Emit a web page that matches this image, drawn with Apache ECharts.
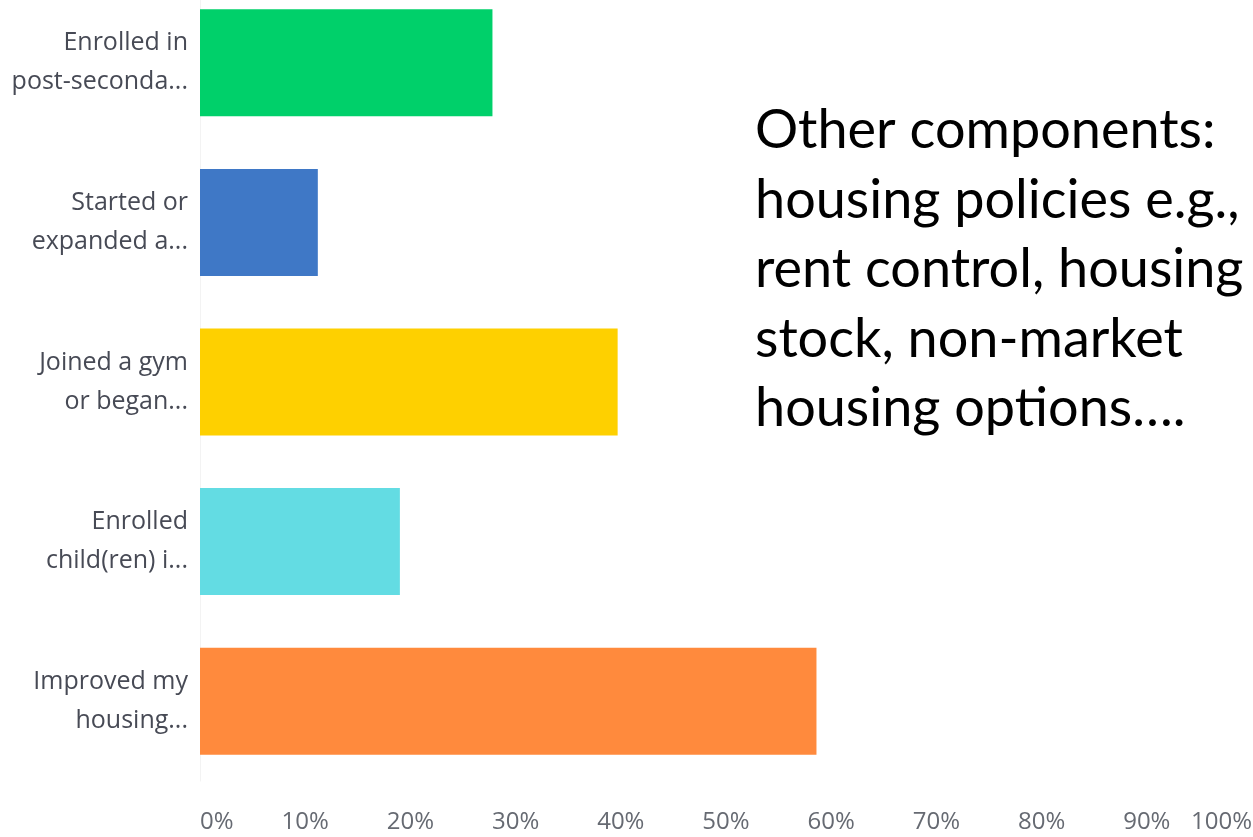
<!DOCTYPE html>
<html>
<head>
<meta charset="utf-8">
<script src="https://cdn.jsdelivr.net/npm/echarts@6/dist/echarts.min.js"></script>
<style>
    html, body { margin: 0; padding: 0; background: #fff; }
    #chart { width: 1253px; height: 837px; }
</style>
</head>
<body>
<div id="chart"></div>
<script>
// answer choices, top to bottom
var categories = [
    'Enrolled in\npost-seconda...',
    'Started or\nexpanded a...',
    'Joined a gym\nor began...',
    'Enrolled\nchild(ren) i...',
    'Improved my\nhousing...'
];
// share of respondents (%)
var values = [27.8, 11.2, 39.7, 19.0, 58.6];
var barColors = ['#00D06A', '#3F78C6', '#FED000', '#63DCE3', '#FF8A3D'];
var noteLines = [
    'Other components:',
    'housing policies e.g.,',
    'rent control, housing',
    'stock, non-market',
    'housing options\u2026.'
];

var chart = echarts.init(document.getElementById('chart'));

var option = {
    backgroundColor: '#ffffff',
    animation: false,
    grid: {
        left: 200,
        right: 1,
        top: -17,     // top band is cut off in the original crop
        bottom: 56,
        outerBoundsMode: 'none'
    },
    xAxis: {
        type: 'value',
        min: 0,
        max: 100,
        interval: 10,
        axisLine: {show: false},
        axisTick: {show: false},
        splitLine: {show: false},
        axisLabel: {
            formatter: '{value}%',
            margin: 29,
            color: '#666a72',
            fontSize: 24,
            fontFamily: 'Open Sans',
            alignMinLabel: 'left',
            alignMaxLabel: 'right'
        }
    },
    yAxis: {
        type: 'category',
        inverse: true,
        data: categories,
        axisLine: {show: true, lineStyle: {color: '#f3f3f3', width: 1}},
        axisTick: {show: false},
        axisLabel: {
            margin: 12,
            color: '#474a55',
            fontSize: 25,
            lineHeight: 39,
            fontFamily: 'Open Sans',
            align: 'right'
        }
    },
    series: [{
        type: 'bar',
        barWidth: 107,
        data: values.map(function (v, i) {
            return {value: v, itemStyle: {color: barColors[i]}};
        })
    }],
    graphic: [{
        type: 'text',
        left: 755,
        top: 96,
        style: {
            text: noteLines.join('\n'),
            fill: '#000',
            font: '54px Lato',
            lineHeight: 69.5
        }
    }]
};

chart.setOption(option);
</script>
</body>
</html>
